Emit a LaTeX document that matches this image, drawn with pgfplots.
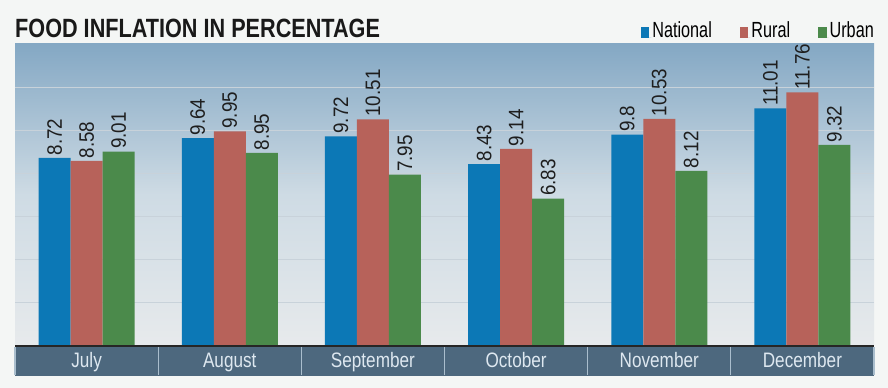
\documentclass[border=0pt]{standalone}
\usepackage{fontspec}
\setmainfont{Liberation Sans}[FakeStretch=0.82]
\newfontfamily\legfont{Liberation Sans}[FakeStretch=0.74]
\newfontfamily\valfont{Liberation Sans}[FakeStretch=0.9]
\usepackage{pgfplots}
\pgfplotsset{compat=1.18}
\definecolor{cNat}{RGB}{12,120,182}
\definecolor{cRur}{RGB}{183,98,90}
\definecolor{cUrb}{RGB}{75,138,75}
\definecolor{band}{RGB}{77,104,126}
\definecolor{sep}{RGB}{170,190,205}
\definecolor{pagebg}{RGB}{244,246,245}
\definecolor{bgtop}{RGB}{132,168,196}
\definecolor{bgmid}{RGB}{206,219,228}
\definecolor{bgbot}{RGB}{231,234,236}
\definecolor{gridc}{RGB}{200,210,218}
\definecolor{labc}{RGB}{222,232,240}
\newcommand\fs[1]{\fontsize{#1}{#1}\selectfont}
\begin{document}
\begin{tikzpicture}
\path[use as bounding box] (0,0) rectangle (888bp,388bp);
\fill[pagebg] (0,0) rectangle (888bp,388bp);
% bottom band
\fill[band] (15bp,12bp) rectangle (874bp,42bp);
\foreach \k in {0,...,6} {
  \draw[sep, line width=1.2bp] ({15bp+143.17bp*\k},13bp) -- ({15bp+143.17bp*\k},41bp);
}
\node[anchor=base west, inner sep=0pt, font=\bfseries\fs{26.5}, text={rgb,255:red,25;green,25;blue,25}] at (15bp,350.5bp) {FOOD INFLATION IN PERCENTAGE};
\begin{axis}[
  at={(15bp,42bp)}, anchor=south west,
  width=859bp, height=302bp, scale only axis,
  xmin=-0.5, xmax=5.5, ymin=0, ymax=14,
  ybar, bar width=32bp,
  axis line style={draw=none},
  axis background/.style={shade, top color=bgtop, bottom color=bgbot, middle color=bgmid},
  ytick={2,4,...,12}, yticklabels={}, ymajorgrids,
  grid style={gridc, line width=1bp},
  major tick length=0pt,
  xtick={0,...,5},
  xticklabels={July,August,September,October,November,December},
  xticklabel style={font=\fs{21}, text=labc, anchor=base, yshift=-22bp},
  point meta=explicit symbolic,
  nodes near coords,
  nodes near coords style={rotate=90, anchor=west, inner sep=2.5bp, font=\valfont\fs{21}, text={rgb,255:red,30;green,30;blue,30}},
  legend columns=3,
  legend style={draw=none, fill=none, at={(1,1)}, anchor=south east, xshift=1bp, yshift=4bp, inner sep=0pt,
    font=\legfont\fs{22}, nodes={inner sep=1bp},
    /tikz/every even column/.append style={column sep=27bp}},
  legend image code/.code={\fill[#1, draw=none] (0bp,-7.5bp) rectangle (8.5bp,3bp); \path (0bp,-7.5bp) -- (10.5bp,-7.5bp);},
]
\addplot[fill=cNat, draw=none, bar shift=-32bp] coordinates {
 (0,8.72) [8.72] (1,9.64) [9.64] (2,9.72) [9.72] (3,8.43) [8.43] (4,9.8) [9.8] (5,11.01) [11.01]};
\addplot[fill=cRur, draw=none, bar shift=0bp] coordinates {
 (0,8.58) [8.58] (1,9.95) [9.95] (2,10.51) [10.51] (3,9.14) [9.14] (4,10.53) [10.53] (5,11.76) [11.76]};
\addplot[fill=cUrb, draw=none, bar shift=32bp] coordinates {
 (0,9.01) [9.01] (1,8.95) [8.95] (2,7.95) [7.95] (3,6.83) [6.83] (4,8.12) [8.12] (5,9.32) [9.32]};
\legend{National,Rural,Urban}
\end{axis}
\draw[black!85, line width=1.5bp] (15bp,42bp) -- (874bp,42bp);
\end{tikzpicture}
\end{document}
